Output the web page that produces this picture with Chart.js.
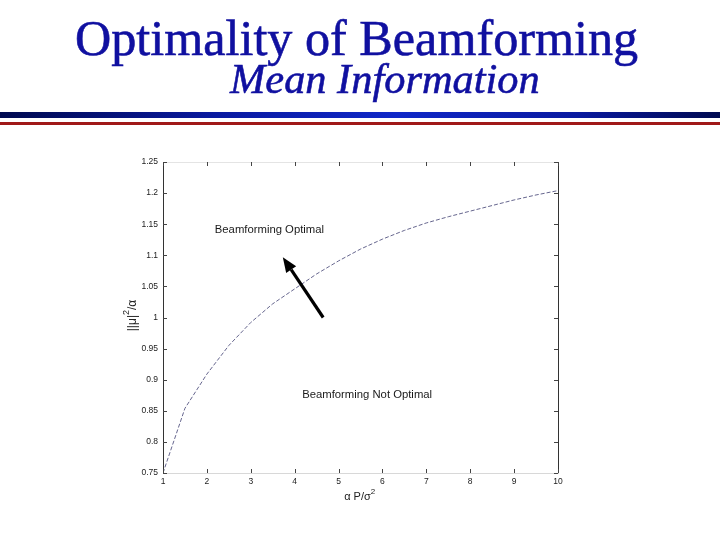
<!DOCTYPE html>
<html>
<head>
<meta charset="utf-8">
<script src="https://cdn.jsdelivr.net/npm/chart.js@4/dist/chart.umd.min.js"></script>
<style>
html,body{margin:0;padding:0;background:#fff;}
#wrap{width:720px;height:540px;position:relative;}
</style>
</head>
<body>
<div id="wrap"><canvas id="c" width="720" height="540"></canvas></div>
<script>
// ---- data ----
const xValues = [1, 1.5, 2, 2.5, 3, 3.5, 4, 4.5, 5, 5.5, 6, 6.5, 7, 7.5, 8, 8.5, 9, 9.5, 10];
const yValues = [0.750, 0.854, 0.909, 0.955, 0.992, 1.022, 1.046, 1.070, 1.091, 1.110, 1.126, 1.140, 1.152, 1.162, 1.171, 1.180, 1.189, 1.197, 1.204];
const xTicks = [1, 2, 3, 4, 5, 6, 7, 8, 9, 10];
const yTicks = [0.75, 0.8, 0.85, 0.9, 0.95, 1, 1.05, 1.1, 1.15, 1.2, 1.25];
const titleText = "Optimality of Beamforming";
const subtitleText = "Mean Information";
const labelOptimal = "Beamforming Optimal";
const labelNotOptimal = "Beamforming Not Optimal";
const optimalAt = [2.18, 1.141];
const notOptimalAt = [4.17, 0.875];
const arrowFrom = [4.65, 1.0];
const arrowTo = [3.73, 1.097];

const points = xValues.map((x, i) => ({x: x, y: yValues[i]}));

const decor = {
  id: 'decor',
  beforeDraw(chart) {
    const ctx = chart.ctx;
    ctx.save();
    ctx.fillStyle = '#fff';
    ctx.fillRect(0, 0, chart.width, chart.height);
    // title
    ctx.fillStyle = '#1010a0';
    ctx.textBaseline = 'alphabetic';
    ctx.textAlign = 'left';
    ctx.font = '40px "Liberation Serif", "Times New Roman", serif';
    let w = ctx.measureText(titleText).width;
    let fs = 40 * 563 / w;
    ctx.font = fs.toFixed(1) + 'px "Liberation Serif", "Times New Roman", serif';
    ctx.strokeStyle = '#1010a0';
    ctx.lineWidth = 0.6;
    ctx.fillText(titleText, 75, 55);
    ctx.strokeText(titleText, 75, 55);
    ctx.font = 'italic 32px "Liberation Serif", "Times New Roman", serif';
    w = ctx.measureText(subtitleText).width;
    fs = 32 * 310 / w;
    ctx.font = 'italic ' + fs.toFixed(1) + 'px "Liberation Serif", "Times New Roman", serif';
    ctx.fillText(subtitleText, 230, 93);
    ctx.strokeText(subtitleText, 230, 93);
    // header rules
    const g = ctx.createLinearGradient(0, 0, 720, 0);
    g.addColorStop(0, '#000a50');
    g.addColorStop(0.3, '#0a1aa0');
    g.addColorStop(0.55, '#1028c8');
    g.addColorStop(0.8, '#0a1aa0');
    g.addColorStop(1, '#000a50');
    ctx.fillStyle = g;
    ctx.fillRect(0, 112, 720, 6);
    ctx.fillStyle = '#a01818';
    ctx.fillRect(0, 122, 720, 3);
    ctx.restore();
  },
  afterDraw(chart) {
    const ctx = chart.ctx;
    const a = chart.chartArea;
    const xs = chart.scales.x, ys = chart.scales.y;
    ctx.save();
    // faint top box line
    ctx.strokeStyle = '#e4e4e4';
    ctx.lineWidth = 1;
    ctx.beginPath();
    ctx.moveTo(a.left, a.top + 0.5); ctx.lineTo(a.right, a.top + 0.5);
    ctx.stroke();
    // right axis line
    ctx.strokeStyle = '#333';
    ctx.beginPath();
    ctx.moveTo(a.right + 0.5, a.top); ctx.lineTo(a.right + 0.5, a.bottom);
    ctx.stroke();
    // inward ticks
    ctx.strokeStyle = '#444';
    ctx.beginPath();
    xTicks.forEach(v => {
      const px = Math.round(xs.getPixelForValue(v)) + 0.5;
      ctx.moveTo(px, a.bottom); ctx.lineTo(px, a.bottom - 4);
      ctx.moveTo(px, a.top); ctx.lineTo(px, a.top + 4);
    });
    yTicks.forEach(v => {
      const py = Math.round(ys.getPixelForValue(v)) + 0.5;
      ctx.moveTo(a.left, py); ctx.lineTo(a.left + 4, py);
      ctx.moveTo(a.right, py); ctx.lineTo(a.right - 4, py);
    });
    ctx.stroke();
    // annotations
    ctx.fillStyle = '#1a1a1a';
    ctx.font = '11.3px "Liberation Sans", Arial, sans-serif';
    ctx.textAlign = 'left';
    ctx.textBaseline = 'middle';
    ctx.fillText(labelOptimal, xs.getPixelForValue(optimalAt[0]), ys.getPixelForValue(optimalAt[1]));
    ctx.fillText(labelNotOptimal, xs.getPixelForValue(notOptimalAt[0]), ys.getPixelForValue(notOptimalAt[1]));
    // arrow
    const x1 = xs.getPixelForValue(arrowFrom[0]), y1 = ys.getPixelForValue(arrowFrom[1]);
    const x2 = xs.getPixelForValue(arrowTo[0]), y2 = ys.getPixelForValue(arrowTo[1]);
    const ang = Math.atan2(y2 - y1, x2 - x1);
    const hl = 15, hw = 6;
    const bx = x2 - hl * Math.cos(ang), by = y2 - hl * Math.sin(ang);
    ctx.strokeStyle = '#000';
    ctx.lineWidth = 3.2;
    ctx.beginPath();
    ctx.moveTo(x1, y1); ctx.lineTo(bx, by);
    ctx.stroke();
    ctx.fillStyle = '#000';
    ctx.beginPath();
    ctx.moveTo(x2, y2);
    ctx.lineTo(bx + hw * Math.sin(ang), by - hw * Math.cos(ang));
    ctx.lineTo(bx - hw * Math.sin(ang), by + hw * Math.cos(ang));
    ctx.closePath();
    ctx.fill();
    // axis titles
    ctx.fillStyle = '#222';
    ctx.font = '11px "Liberation Sans", Arial, sans-serif';
    ctx.textBaseline = 'alphabetic';
    // x title: α P/σ²
    const xt1 = 'α P/σ';
    const xw = ctx.measureText(xt1).width;
    const cx = (a.left + a.right) / 2;
    ctx.textAlign = 'left';
    ctx.fillText(xt1, cx - xw / 2 - 3, 500);
    ctx.font = '8px "Liberation Sans", Arial, sans-serif';
    ctx.fillText('2', cx + xw / 2 - 3, 494);
    // y title rotated
    ctx.save();
    ctx.translate(136, (a.top + a.bottom) / 2 - 2);
    ctx.rotate(-Math.PI / 2);
    ctx.font = '12px "Liberation Sans", Arial, sans-serif';
    const yt1 = '||μ|', yt2 = '/α';
    const w1 = ctx.measureText(yt1).width;
    ctx.font = '9px "Liberation Sans", Arial, sans-serif';
    const w2 = ctx.measureText('2').width;
    ctx.font = '12px "Liberation Sans", Arial, sans-serif';
    const w3 = ctx.measureText(yt2).width;
    let sx = -(w1 + w2 + w3) / 2;
    ctx.fillText(yt1, sx, 0);
    ctx.font = '9px "Liberation Sans", Arial, sans-serif';
    ctx.fillText('2', sx + w1, -7);
    ctx.font = '12px "Liberation Sans", Arial, sans-serif';
    ctx.fillText(yt2, sx + w1 + w2, 0);
    ctx.restore();
    ctx.restore();
  }
};

new Chart(document.getElementById('c'), {
  type: 'line',
  data: {
    datasets: [{
      data: points,
      borderColor: 'rgba(85,85,130,0.9)',
      borderWidth: 1,
      borderDash: [4, 2],
      pointRadius: 0,
      fill: false,
      tension: 0
    }]
  },
  options: {
    responsive: false,
    animation: false,
    devicePixelRatio: 1,
    layout: { padding: { left: 0, right: 162, top: 162, bottom: 47 } },
    plugins: { legend: { display: false }, tooltip: { enabled: false }, title: { display: false } },
    scales: {
      x: {
        type: 'linear',
        min: 1, max: 10,
        afterFit: s => { s.height = 20; },
        afterBuildTicks: s => { s.ticks = xTicks.map(v => ({value: v})); },
        ticks: { padding: 4, color: '#222', font: { size: 8.5, family: '"Liberation Sans", Arial, sans-serif' }, maxRotation: 0, autoSkip: false },
        grid: { drawOnChartArea: false, drawTicks: false },
        border: { display: true, color: '#d8d8d8' }
      },
      y: {
        type: 'linear',
        min: 0.75, max: 1.25,
        afterFit: s => { s.width = 163; },
        afterBuildTicks: s => { s.ticks = yTicks.map(v => ({value: v})); },
        ticks: { padding: 5, color: '#222', font: { size: 8.5, family: '"Liberation Sans", Arial, sans-serif' }, autoSkip: false,
          callback: v => String(+Number(v).toFixed(2)) },
        grid: { drawOnChartArea: false, drawTicks: false },
        border: { display: true, color: '#333' }
      }
    }
  },
  plugins: [decor]
});
</script>
</body>
</html>
